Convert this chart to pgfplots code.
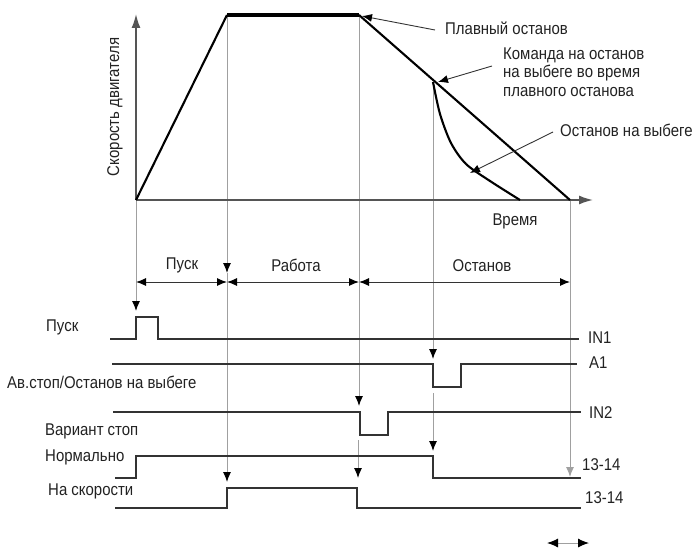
\documentclass[border=0pt]{standalone}
\usepackage{pgfplots}
\pgfplotsset{compat=1.18}
\usetikzlibrary{arrows.meta}
\usepackage{fontspec}
\setmainfont{Liberation Sans}[FakeStretch=0.88]

\definecolor{sigc}{HTML}{333333}
\definecolor{gridc}{HTML}{A0A0A0}
\definecolor{axc}{HTML}{555555}
\definecolor{txt}{HTML}{222222}

\begin{document}
\begin{tikzpicture}[
    lbl/.style={font=\fontsize{17bp}{18.5bp}\selectfont, text=txt, inner sep=0pt},
  ]
  \path[use as bounding box] (0,0) rectangle (698bp,548bp);
  \begin{axis}[
      scale only axis,
      width=698bp, height=548bp,
      xmin=0, xmax=698, ymin=0, ymax=548,
      y dir=reverse,
      hide axis, clip=false,
      sig/.style={color=sigc, line width=1.2bp, no markers},
      vline/.style={color=gridc, line width=1bp, no markers},
      tip/.style={-{Latex[length=10bp,width=8bp,color=black]}},
    ]
    % vertical guide lines
    \addplot[vline, tip] coordinates {(136,200)(136,311)};
    \addplot[vline, tip] coordinates {(227,15)(227,273)};
    \addplot[vline, tip] coordinates {(227,273)(227,482)};
    \addplot[vline, tip] coordinates {(359,15)(359,406)};
    \addplot[vline, tip] coordinates {(358,440)(358,478)};
    \addplot[vline, tip] coordinates {(433,82)(433,359)};
    \addplot[vline, tip] coordinates {(433,393)(433,451)};
    \addplot[vline, -{Latex[length=10bp,width=8bp]}] coordinates {(570,200)(570,477)};

    % speed chart axes
    \addplot[axc, line width=1.6bp, no markers, -{Latex[length=14bp,width=9bp]}] coordinates {(136,200)(136,14)};
    \addplot[axc, line width=1.6bp, no markers, -{Latex[length=14bp,width=9bp]}] coordinates {(136,200)(593,200)};

    % speed profile
    \addplot[black, line width=2.1bp, no markers] coordinates {(136,200)(227,15)};
    \addplot[black, line width=3.4bp, no markers] coordinates {(227,15)(359,15)};
    \addplot[black, line width=2.1bp, no markers] coordinates {(359,15)(570,200)};
    % coast stop
    \addplot[black, line width=2.1bp, no markers, smooth] coordinates {
      (433,82)(440,114)(451,143)(466,164)(490,181)(520,200)};

    % annotation arrows
    \addplot[sigc, line width=0.9bp, tip] coordinates {(435,30)(362,16)};
    \addplot[sigc, line width=0.9bp, tip] coordinates {(492,66)(438,82)};
    \addplot[sigc, line width=0.9bp, tip] coordinates {(553,132)(470,173)};

    % phase arrows
    \addplot[sigc, line width=1bp, {Latex[length=10bp,width=8bp,color=black]}-{Latex[length=10bp,width=8bp,color=black]}] coordinates {(136,282)(227,282)};
    \addplot[sigc, line width=1bp, {Latex[length=10bp,width=8bp,color=black]}-{Latex[length=10bp,width=8bp,color=black]}] coordinates {(227,282)(359,282)};
    \addplot[sigc, line width=1bp, {Latex[length=10bp,width=8bp,color=black]}-{Latex[length=10bp,width=8bp,color=black]}] coordinates {(359,282)(570,282)};

    % signals
    \addplot[sig] coordinates {(110,339)(136,339)(136,317)(158,317)(158,339)(579,339)};
    \addplot[sig] coordinates {(112,364)(433,364)(433,387)(461,387)(461,364)(577,364)};
    \addplot[sig] coordinates {(113,412)(360,412)(360,435)(388,435)(388,412)(581,412)};
    \addplot[sig] coordinates {(115,478)(136,478)(136,456)(433,456)(433,478)(581,478)};
    \addplot[sig] coordinates {(115,508)(227,508)(227,488)(357,488)(357,508)(581,508)};

    % scale arrow at the bottom
    \addplot[vline, {Latex[length=11bp,width=9bp,color=black]}-{Latex[length=11bp,width=9bp,color=black]}] coordinates {(547,543)(589,543)};

    % texts
    \node[lbl, rotate=90] at (115,107) {Скорость двигателя};
    \node[lbl, anchor=west] at (445,28) {Плавный останов};
    \node[lbl, anchor=west, align=left] at (503,72) {Команда на останов\\на выбеге во время\\плавного останова};
    \node[lbl, anchor=west] at (560,130) {Останов на выбеге};
    \node[lbl] at (515,221) {Время};
    \node[lbl] at (182,265) {Пуск};
    \node[lbl] at (296,265) {Работа};
    \node[lbl] at (482,266) {Останов};

    \node[lbl, anchor=west] at (46,327) {Пуск};
    \node[lbl, anchor=west] at (7,382) {Ав.стоп/Останов на выбеге};
    \node[lbl, anchor=west] at (45,431) {Вариант стоп};
    \node[lbl, anchor=west] at (45,457) {Нормально};
    \node[lbl, anchor=west] at (48,491) {На скорости};

    \node[lbl, anchor=west] at (588,338) {IN1};
    \node[lbl, anchor=west] at (589,363) {A1};
    \node[lbl, anchor=west] at (589,413) {IN2};
    \node[lbl, anchor=west] at (582,465) {13-14};
    \node[lbl, anchor=west] at (585,498) {13-14};
  \end{axis}
\end{tikzpicture}
\end{document}
